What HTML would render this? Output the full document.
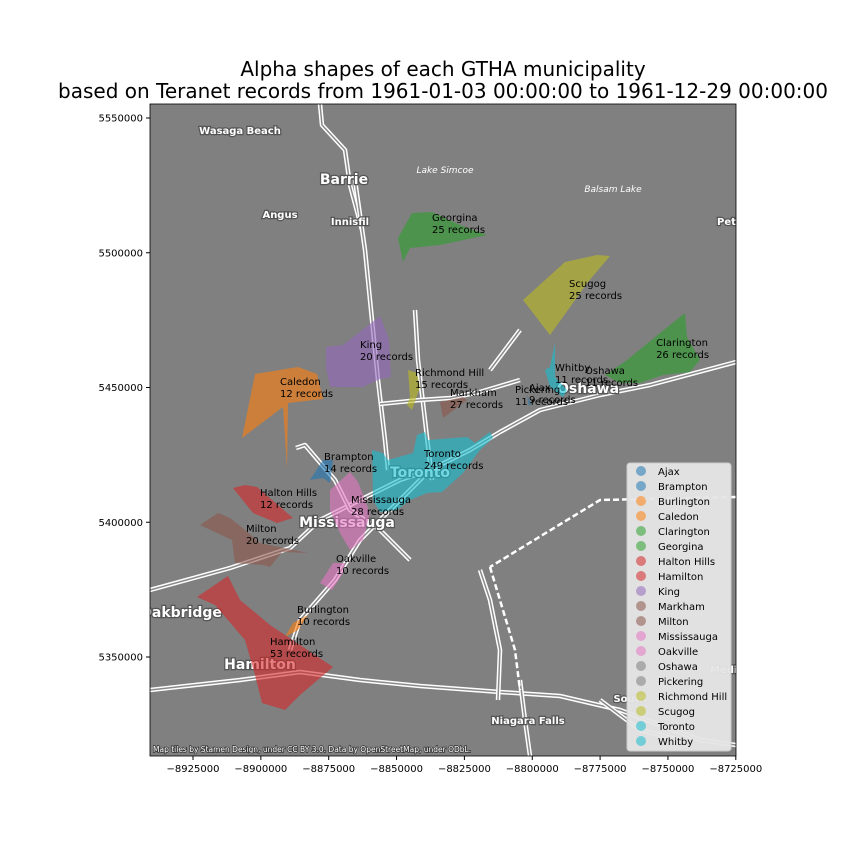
<!DOCTYPE html>
<html><head><meta charset="utf-8">
<style>
body{margin:0;background:#fff;}
svg{display:block;font-family:"DejaVu Sans","Liberation Sans",sans-serif;}
.place{fill:#fff;stroke:#555;stroke-width:2.5;paint-order:stroke;font-weight:bold;}
</style></head>
<body>
<svg id="chart" width="864" height="864" viewBox="0 0 864 864" xmlns="http://www.w3.org/2000/svg">
<text x="443" y="76" text-anchor="middle" font-size="20">Alpha shapes of each GTHA municipality</text>
<text x="443" y="98" text-anchor="middle" font-size="20">based on Teranet records from 1961-01-03 00:00:00 to 1961-12-29 00:00:00</text>
<defs><clipPath id="clip"><rect x="150" y="104" width="586" height="652"/></clipPath></defs>
<rect x="150" y="104" width="586" height="652" fill="#808080"/>
<g id="roads" clip-path="url(#clip)"></g>
<g id="places" clip-path="url(#clip)" font-size="11">
<text class="place" x="240" y="134" text-anchor="middle" font-size="10">Wasaga Beach</text>
<text class="place" x="344" y="184" text-anchor="middle" font-size="14">Barrie</text>
<text class="place" x="280" y="218" text-anchor="middle" font-size="10">Angus</text>
<text class="place" x="350" y="225" text-anchor="middle" font-size="10">Innisfil</text>
<text x="445" y="173" text-anchor="middle" font-size="9" fill="#fff" font-style="italic">Lake Simcoe</text>
<text x="613" y="192" text-anchor="middle" font-size="9" fill="#fff" font-style="italic">Balsam Lake</text>
<text class="place" x="717" y="225" font-size="10">Pete</text>
<text class="place" x="588" y="393" text-anchor="middle" font-size="14">Oshawa</text>
<text class="place" x="420" y="477" text-anchor="middle" font-size="14">Toronto</text>
<text class="place" x="347" y="527" text-anchor="middle" font-size="14">Mississauga</text>
<text class="place" x="260" y="669" text-anchor="middle" font-size="14">Hamilton</text>
<text class="place" x="140" y="617" font-size="14">Oakbridge</text>
<text class="place" x="528" y="724" text-anchor="middle" font-size="10">Niagara Falls</text>
<text class="place" x="630" y="702" text-anchor="middle" font-size="10">South</text>
<text class="place" x="710" y="673" font-size="10">Media</text>
</g>
<g id="shapes" clip-path="url(#clip)"></g>
<g id="labels" font-size="10" fill="#000"></g>
<text x="153" y="752" font-size="7.5" fill="#fff" stroke="#333" stroke-width="1.5" paint-order="stroke">Map tiles by Stamen Design, under CC BY 3.0. Data by OpenStreetMap, under ODbL.</text>
<rect x="150" y="104" width="586" height="652" fill="none" stroke="#000" stroke-width="0.8"/>
<g id="axes" font-size="10"></g>
<g id="legend"></g>
</svg>
<script>
const xTicks=[-8925000,-8900000,-8875000,-8850000,-8825000,-8800000,-8775000,-8750000,-8725000];
const yTicks=[5550000,5500000,5450000,5400000,5350000];
const names=["Georgina","Scugog","Clarington","King","Whitby","Oshawa","Richmond Hill","Caledon","Pickering","Ajax","Markham","Brampton","Toronto","Halton Hills","Mississauga","Milton","Oakville","Burlington","Hamilton"];
const records=[25,25,26,20,11,11,15,12,11,9,27,14,249,12,28,20,10,10,53];
const labelX=[-8836930,-8786440,-8754380,-8863460,-8791600,-8780550,-8843190,-8892940,-8806340,-8801180,-8830300,-8876730,-8839880,-8900310,-8866780,-8905470,-8872300,-8886680,-8896630];
const labelY=[5513260,5488770,5466870,5466130,5457600,5456480,5455740,5452400,5449430,5450170,5448320,5424570,5425680,5411210,5408610,5397850,5386720,5367790,5355920];
const legendNames=["Ajax","Brampton","Burlington","Caledon","Clarington","Georgina","Halton Hills","Hamilton","King","Markham","Milton","Mississauga","Oakville","Oshawa","Pickering","Richmond Hill","Scugog","Toronto","Whitby"];
const colors={Ajax:"#1f77b4",Brampton:"#1f77b4",Burlington:"#ff7f0e",Caledon:"#ff7f0e",Clarington:"#2ca02c",Georgina:"#2ca02c","Halton Hills":"#d62728",Hamilton:"#d62728",King:"#9467bd",Markham:"#8c564b",Milton:"#8c564b",Mississauga:"#e377c2",Oakville:"#e377c2",Oshawa:"#7f7f7f",Pickering:"#7f7f7f","Richmond Hill":"#bcbd22",Scugog:"#bcbd22",Toronto:"#17becf",Whitby:"#17becf"};
const xs=v=>193+(v+8925000)/25000*67.85;
const ys=v=>118+(5550000-v)/50000*134.75;
const NS="http://www.w3.org/2000/svg";
function mk(t,a,p){const e=document.createElementNS(NS,t);for(const k in a)e.setAttribute(k,a[k]);p.appendChild(e);return e;}
const roads=[
"150,590 230,568 290,548 320,520 360,500 400,480 430,470 470,450 500,432 540,410 600,395 650,385 736,362",
"150,690 240,680 300,672 360,680 420,686 500,692 560,696 620,710 700,740 736,745",
"320,104 322,125 345,150 350,185 362,230",
"355,180 365,250 372,320 378,380 385,440 388,470",
"415,310 418,360 425,420 432,480",
"296,448 305,445 335,480 350,510 380,530 410,560",
"430,470 400,500 360,540 335,580 300,620 290,650",
"380,404 420,400 450,398 480,392 520,380",
"480,570 490,600 500,650 498,700",
"520,680 525,720 530,756",
"490,370 520,330",
"600,700 640,730 680,740"
];
const rg=document.getElementById('roads');
roads.forEach(r=>{mk('polyline',{points:r,fill:'none',stroke:'#fff',"stroke-width":4.5,"stroke-linejoin":"round"},rg);mk('polyline',{points:r,fill:'none',stroke:'#8a8a8a',"stroke-width":1.5,"stroke-linejoin":"round"},rg);});
mk('polyline',{points:"736,497 600,500 490,567",fill:'none',stroke:'#fff',"stroke-width":2.5,"stroke-dasharray":"6,3"},rg);
mk('polyline',{points:"490,567 515,650 520,690",fill:'none',stroke:'#fff',"stroke-width":2.5,"stroke-dasharray":"6,3"},rg);
const shapes={
Caledon:"255,374 298,367 317,374 323,399 288,403 287,468 283,407 242,438",
King:"326,347 343,345 380,316 389,339 391,377 380,379 363,387 330,387 326,367",
"Richmond Hill":"408,370 417,373 420,387 412,410 407,405 410,397",
Markham:"440,402 463,397 467,400 443,418",
Brampton:"310,480 323,460 333,460 330,483 323,478",
Toronto:"372,450 383,453 388,460 413,453 417,435 425,432 428,440 467,437 475,443 490,432 493,438 480,450 463,473 442,492 427,493 410,500 397,510 380,512 373,500",
Mississauga:"330,490 350,472 358,482 365,500 370,513 363,540 350,550 340,533 330,510",
Oakville:"320,583 333,563 345,563 343,573 332,590",
"Halton Hills":"233,488 245,485 257,487 293,518 277,523 253,513",
Milton:"200,525 218,513 230,518 245,530 260,543 308,553 282,552 270,567 263,565 235,563 232,540",
Burlington:"285,637 293,623 308,615 298,630",
Hamilton:"197,597 228,576 240,600 270,625 285,635 333,667 300,695 285,710 262,703 255,675 245,640 215,605",
Georgina:"398,238 412,213 432,212 460,225 487,235 440,245 410,248 403,262",
Scugog:"523,300 565,262 597,255 610,256 588,282 550,335",
Clarington:"605,375 627,360 660,333 685,313 687,337 700,360 690,372 663,375 640,383 620,383",
Whitby:"555,343 550,367 545,370 550,387 563,397 567,390 555,377",
Pickering:"525,392 533,407 528,410",
Ajax:"527,395 531,404 529,406"
};
const sg=document.getElementById('shapes');
for(const n in shapes){const p=mk('polygon',{points:shapes[n],fill:colors[n],"fill-opacity":0.6},sg);

}
const lg=document.getElementById('labels');
names.forEach((n,i)=>{const t=mk('text',{x:xs(labelX[i]),y:ys(labelY[i])+4},lg);


mk('tspan',{x:xs(labelX[i])},t).textContent=n;
mk('tspan',{x:xs(labelX[i]),dy:12},t).textContent=records[i]+' records';});
const ag=document.getElementById('axes');
xTicks.forEach(v=>{const x=xs(v);mk('line',{x1:x,x2:x,y1:756,y2:760,stroke:'#000'},ag);
const t=mk('text',{x:x,y:772,"text-anchor":"middle"},ag);


t.textContent='\u2212'+Math.abs(v);});
yTicks.forEach(v=>{const y=ys(v);mk('line',{x1:146,x2:150,y1:y,y2:y,stroke:'#000'},ag);
const t=mk('text',{x:143,y:y+3.5,"text-anchor":"end"},ag);


t.textContent=v;});
const L=document.getElementById('legend');
mk('rect',{x:627,y:463,width:104,height:288,rx:3,fill:'#e6e6e6',"fill-opacity":0.95,stroke:'#ccc'},L);
legendNames.forEach((n,i)=>{const y=471+i*15;
const c=mk('circle',{cx:641,cy:y,r:5,fill:colors[n],"fill-opacity":0.55},L);


const t=mk('text',{x:658,y:y+4,"font-size":10},L);


t.textContent=n;});
</script>
</body></html>
